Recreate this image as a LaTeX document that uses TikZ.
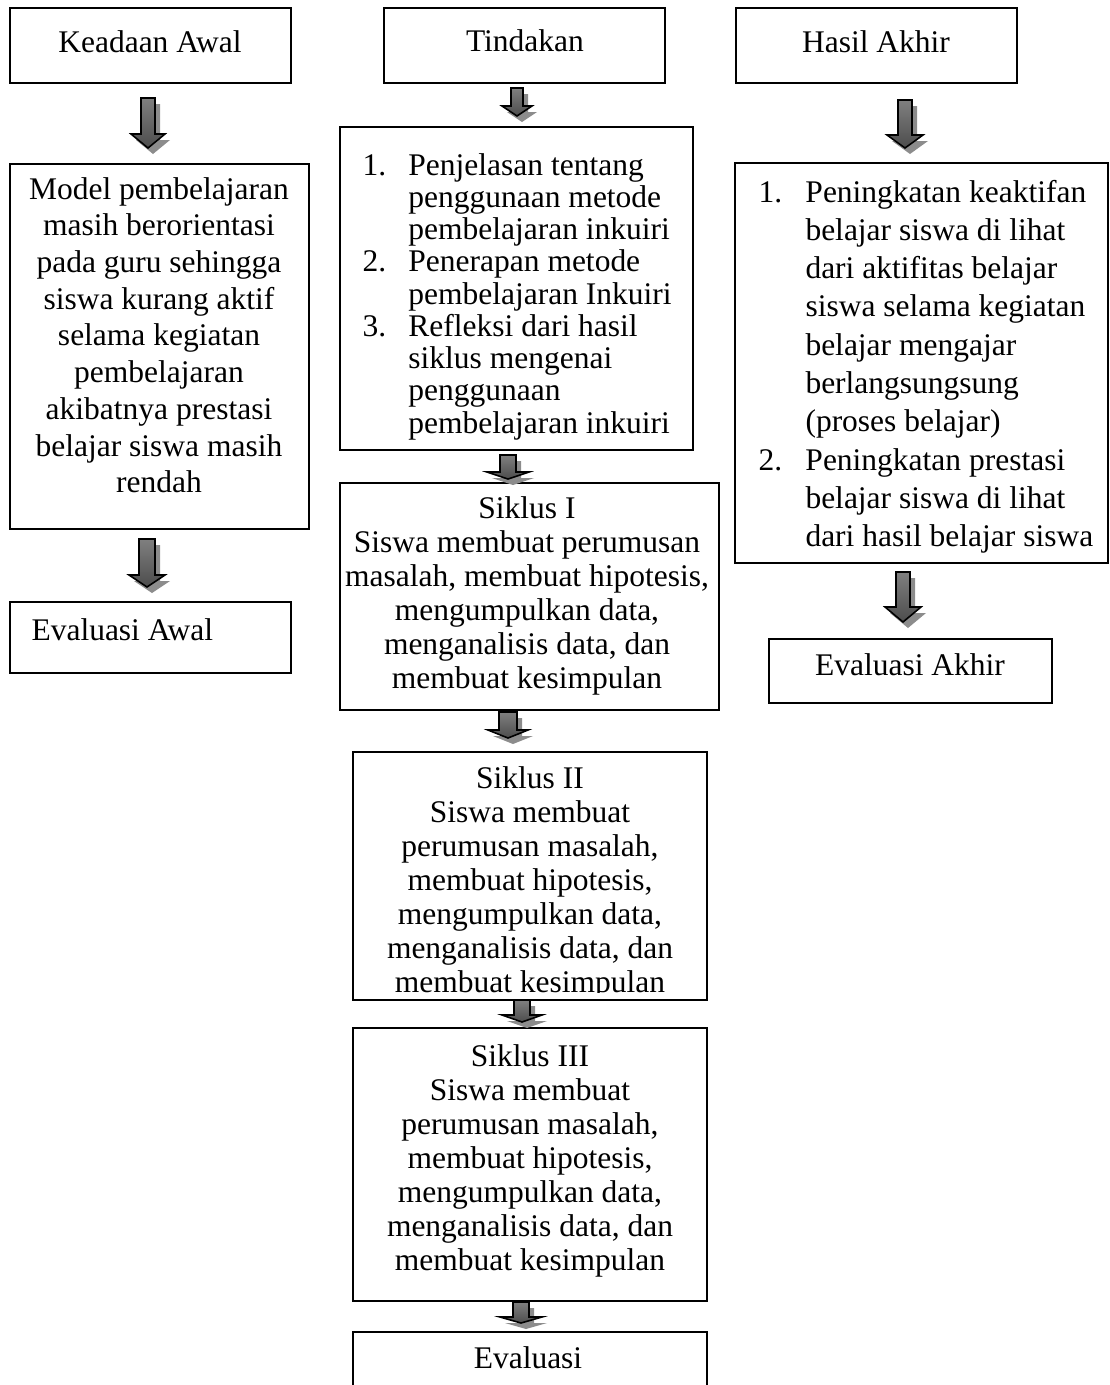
\documentclass[tikz,border=0pt]{standalone}
\usepackage{fontspec}
\setmainfont{Liberation Serif}
\usetikzlibrary{fit}
\tikzset{
  box/.style={draw,line width=0.7pt,inner sep=0pt},
  txt/.style={inner sep=0pt,font=\fontsize{12}{#1}\selectfont},
  txt/.default=14pt,
  arrshadow/.style={fill=black!45},
  arrbody/.style={draw=black,line width=0.6pt,top color=black!50,middle color=black!95,bottom color=black!70},
}
\begin{document}
\begin{tikzpicture}[x=0.381pt,y=-0.381pt]
\useasboundingbox (0,0) rectangle (1109,1385);
\clip (0,0) rectangle (1109,1385);
% kolom kiri
\node[box,fit={(10,8)(291,83)}] (awal) {};
\node[txt,anchor=base] (awalT) at (150,52) {Keadaan Awal};
\node[box,fit={(10,164)(309,529)}] (model) {};
\node[txt,anchor=base] (modelT) at (159,199) {\begin{tabular}[t]{@{}c@{}}Model pembelajaran\\masih berorientasi\\pada guru sehingga\\siswa kurang aktif\\selama kegiatan\\pembelajaran\\akibatnya prestasi\\belajar siswa masih\\rendah\end{tabular}};
\node[box,fit={(10,602)(291,673)}] (evawal) {};
\node[txt,anchor=base west] (evawalT) at (31,640) {Evaluasi Awal};
% kolom tengah
\node[box,fit={(384,8)(665,83)}] (tindakan) {};
\node[txt,anchor=base] (tindakanT) at (525,51) {Tindakan};
\node[box,fit={(340,127)(693,450)}] (langkah) {};
\node[txt=12.3pt,anchor=base west] (langkahT) at (362,175) {\begin{tabular}[t]{@{}p{17.5pt}@{}l@{}}1.&Penjelasan tentang\\&penggunaan metode\\&pembelajaran inkuiri\\2.&Penerapan metode\\&pembelajaran Inkuiri\\3.&Refleksi dari hasil\\&siklus mengenai\\&penggunaan\\&pembelajaran inkuiri\end{tabular}};
\node[box,fit={(340,483)(719,710)}] (siklusA) {};
\node[txt=13pt,anchor=base] (siklusAT) at (527,518) {\begin{tabular}[t]{@{}c@{}}Siklus I\\Siswa membuat perumusan\\masalah, membuat hipotesis,\\mengumpulkan data,\\menganalisis data, dan\\membuat kesimpulan\end{tabular}};
\node[box,fit={(353,752)(707,1000)}] (siklusB) {};
\begin{scope}
\clip (353,752) rectangle (707,992);
\node[txt=13pt,anchor=base] (siklusBT) at (530,788) {\begin{tabular}[t]{@{}c@{}}Siklus II\\Siswa membuat\\perumusan masalah,\\membuat hipotesis,\\mengumpulkan data,\\menganalisis data, dan\\membuat kesimpulan\end{tabular}};
\end{scope}
\node[box,fit={(353,1028)(707,1301)}] (siklusC) {};
\node[txt=13pt,anchor=base] (siklusCT) at (530,1066) {\begin{tabular}[t]{@{}c@{}}Siklus III\\Siswa membuat\\perumusan masalah,\\membuat hipotesis,\\mengumpulkan data,\\menganalisis data, dan\\membuat kesimpulan\end{tabular}};
\node[box,fit={(353,1332)(707,1420)}] (evaluasi) {};
\node[txt,anchor=base] (evaluasiT) at (528,1368) {Evaluasi};
% kolom kanan
\node[box,fit={(736,8)(1017,83)}] (hasil) {};
\node[txt,anchor=base] (hasilT) at (876,52) {Hasil Akhir};
\node[box,fit={(735,163)(1108,563)}] (capaian) {};
\begin{scope}
\clip (735,163) rectangle (1108,552);
\node[txt=14.6pt,anchor=base west] (capaianT) at (758,202) {\begin{tabular}[t]{@{}p{17.9pt}@{}l@{}}1.&Peningkatan keaktifan\\&belajar siswa di lihat\\&dari aktifitas belajar\\&siswa selama kegiatan\\&belajar mengajar\\&berlangsungsung\\&(proses belajar)\\2.&Peningkatan prestasi\\&belajar siswa di lihat\\&dari hasil belajar siswa\end{tabular}};
\end{scope}
\node[box,fit={(769,639)(1052,703)}] (evakhir) {};
\node[txt,anchor=base] (evakhirT) at (910,675) {Evaluasi Akhir};
% panah blok: nama/x/y atas/setengah batang/setengah kepala/panjang batang/panjang kepala
\foreach \nm/\ax/\ay/\sw/\hw/\sl/\hl in {ka/148/98/7/17/36/14, kb/147/539/8/18/36/12,
  ta/517/88/6/15/18/10, tb/508/455/8/21/17/7, tc/508/712/9/20/18/8, td/522/1000/8/20/15/7, te/521/1302/8/21/15/6,
  ha/905/100/7/18/35/13, hb/903/572/7/18/35/15}{
  \coordinate (\nm) at (\ax,\ay);
  \fill[arrshadow] (\nm) ++(5,6) ++(-\sw,0) -- ++(0,\sl) -- ++({\sw-\hw},0) -- ++(\hw,\hl) -- ++(\hw,-\hl) -- ++({\sw-\hw},0) -- ++(0,-\sl) -- cycle;
  \draw[arrbody] (\nm) ++(-\sw,0) -- ++(0,\sl) -- ++({\sw-\hw},0) -- ++(\hw,\hl) -- ++(\hw,-\hl) -- ++({\sw-\hw},0) -- ++(0,-\sl) -- cycle;
}
\end{tikzpicture}
\end{document}
